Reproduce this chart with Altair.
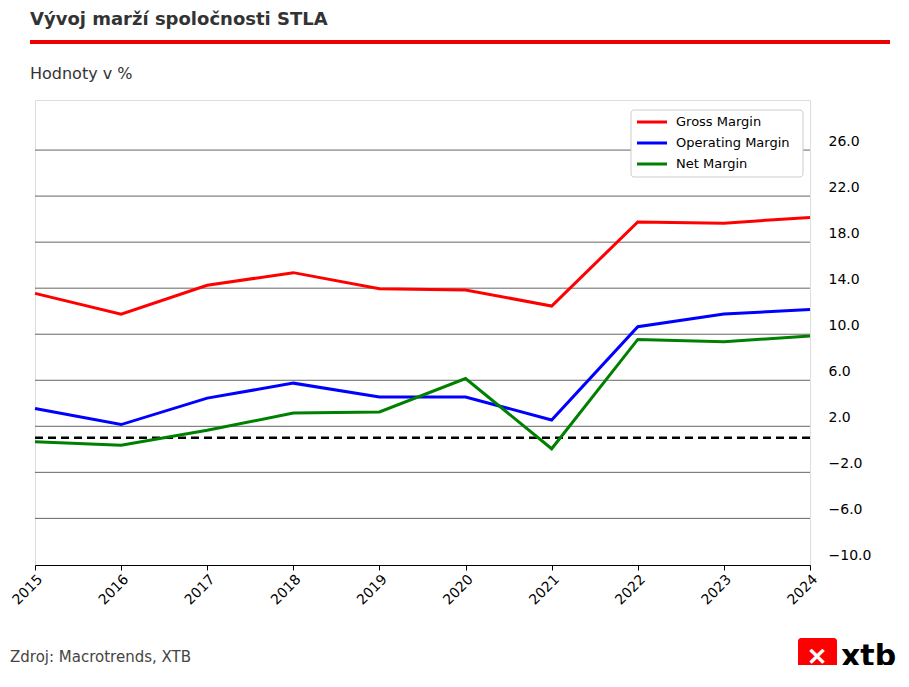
import pandas as pd
import altair as alt

years = list(range(2015, 2025))
gross = [12.8, 11.0, 13.5, 14.6, 13.2, 13.1, 11.7, 19.0, 18.9, 19.4]
operating = [2.8, 1.4, 3.7, 5.0, 3.8, 3.8, 1.8, 9.9, 11.0, 11.4]
net = [-0.1, -0.4, 0.9, 2.4, 2.5, 5.4, -0.7, 8.8, 8.6, 9.1]
series = ["Gross Margin", "Operating Margin", "Net Margin"]
colors = ["#ff0000", "#0000ff", "#008000"]
tick_vals = [-10, -6, -2, 2, 6, 10, 14, 18, 22, 26]
grid_vals = [v - 0.75 for v in tick_vals[1:]]

rows = []
for name, vals in zip(series, [gross, operating, net]):
    for y, v in zip(years, vals):
        rows.append({"year": y, "value": v, "series": name})
df = pd.DataFrame(rows)

xs = alt.X("year:Q", scale=alt.Scale(domain=[2015, 2024], nice=False),
           axis=alt.Axis(values=years, format="d", title=None, labelAngle=315,
                         labelAlign="right", labelFontSize=14, labelColor="#000",
                         domainColor="#000", tickColor="#000", grid=False,
                         labelFont="DejaVu Sans"))
yscale = alt.Scale(domain=[-10.8, 29.6], nice=False, zero=False)
yaxis = alt.Axis(orient="right", values=tick_vals, format=".1f", title=None,
                 domain=False, ticks=False, grid=False, labelFontSize=14,
                 labelColor="#000", labelPadding=18, labelFont="DejaVu Sans")

grid = alt.Chart(pd.DataFrame({"g": grid_vals})).mark_rule(color="#666", strokeWidth=1).encode(
    y=alt.Y("g:Q", scale=yscale, axis=yaxis))

lines = alt.Chart(df).mark_line(strokeWidth=3).encode(
    x=xs,
    y=alt.Y("value:Q", scale=yscale, axis=yaxis),
    color=alt.Color("series:N", scale=alt.Scale(domain=series, range=colors), legend=None),
)

zero = alt.Chart(pd.DataFrame({"z": [0.25]})).mark_rule(
    color="#000", strokeWidth=2.5, strokeDash=[8, 5]).encode(y=alt.Y("z:Q", scale=yscale, axis=yaxis))

# legend
box = alt.Chart(pd.DataFrame({"a": [0]})).mark_rect(
    fill="white", stroke="#ccc", cornerRadius=3).encode(
    x=alt.value(596), x2=alt.value(768), y=alt.value(10), y2=alt.value(77))
leg = pd.DataFrame({"series": series, "yy": [22, 43, 64]})
leg_lines = alt.Chart(leg).mark_rule(strokeWidth=3).encode(
    x=alt.value(602), x2=alt.value(632), y=alt.Y("yy:Q", scale=None),
    color=alt.Color("series:N", scale=alt.Scale(domain=series, range=colors), legend=None))
leg_text = alt.Chart(leg).mark_text(align="left", baseline="middle", fontSize=13,
                                    font="DejaVu Sans", color="#000").encode(
    x=alt.value(641), y=alt.Y("yy:Q", scale=None), text="series:N")

def label(txt, x, y, size, color, weight="normal", font="DejaVu Sans"):
    return alt.Chart(pd.DataFrame({"t": [txt]})).mark_text(
        align="left", baseline="middle", fontSize=size, color=color,
        fontWeight=weight, font=font).encode(x=alt.value(x), y=alt.value(y), text="t:N")

title = label("Vývoj marží spoločnosti STLA", -5, -80, 18, "#333", "bold")
subtitle = label("Hodnoty v %", -5, -26, 16, "#333")
source = label("Zdroj: Macrotrends, XTB", -25, 557, 15, "#444")
red_line = alt.Chart(pd.DataFrame({"a": [0]})).mark_rule(color="#e00", strokeWidth=4).encode(
    x=alt.value(-5), x2=alt.value(855), y=alt.value(-58))
logo_box = alt.Chart(pd.DataFrame({"a": [0]})).mark_rect(fill="#ff0000", cornerRadius=3).encode(
    x=alt.value(763), x2=alt.value(802), y=alt.value(538), y2=alt.value(577))
logo_x = alt.Chart(pd.DataFrame({"t": ["✕"]})).mark_text(
    fontSize=24, color="white", fontWeight="bold").encode(
    x=alt.value(782), y=alt.value(558), text="t:N")
logo_txt = label("xtb", 806, 557, 30, "#000", "bold")

chart = alt.layer(grid, zero, lines, box, leg_lines, leg_text, title, subtitle,
                  red_line, source, logo_box, logo_x, logo_txt).properties(
    width=775, height=465, autosize=alt.AutoSizeParams(type="none"),
    padding={"left": 27, "top": 92, "right": 91, "bottom": 100},
).configure_view(stroke=None, strokeWidth=0).configure(background="white")

chart.save("out.html", embed_options={"renderer": "svg", "actions": False})
